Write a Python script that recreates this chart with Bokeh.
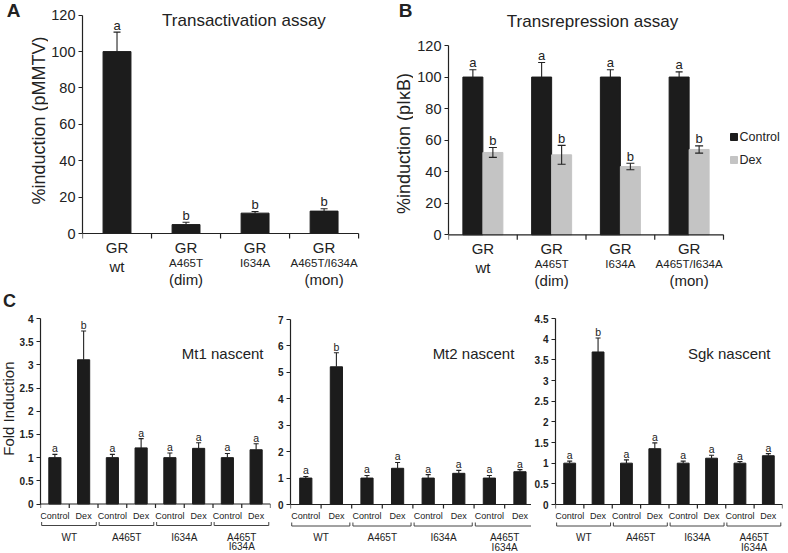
import math
from bokeh.plotting import figure
from bokeh.models import (Range1d, FixedTicker, Label, ColumnDataSource, Whisker,
                          TeeHead, CustomJSTickFormatter)
from bokeh.layouts import row, column
from bokeh.embed import file_html
from bokeh.resources import INLINE
from bokeh.core.properties import value

FONT = "Liberation Sans"
INK = "#222222"
BAR_DARK = "#1c1c1c"
BAR_GREY = "#c4c4c4"

# ------------------------------------------------------------------ data
ab_line1 = ["GR", "GR", "GR", "GR"]
ab_line2_big = ["wt", "", "", ""]
ab_line2_small = ["", "A465T", "I634A", "A465T/I634A"]
ab_line3 = ["", "(dim)", "", "(mon)"]

a_ticks = [0, 20, 40, 60, 80, 100, 120]
a_mean = [100.0, 4.9, 11.2, 12.3]
a_err = [10.7, 1.3, 0.9, 1.3]
a_letter = ["a", "b", "b", "b"]

b_ticks = [0, 20, 40, 60, 80, 100, 120]
b_series = ["Control", "Dex"]
b_control = [100.0, 100.0, 100.0, 100.0]
b_control_err = [4.6, 9.2, 4.6, 3.3]
b_dex = [52.2, 50.7, 43.3, 54.1]
b_dex_err = [3.1, 6.0, 2.1, 2.3]
b_control_letter = ["a", "a", "a", "a"]
b_dex_letter = ["b", "b", "b", "b"]

c_line1 = ["WT", "A465T", "I634A", "A465T"]
c_line2 = ["", "", "", "I634A"]
c_conditions = ["Control", "Dex"]
c_control_letter = ["a", "a", "a", "a"]
c_dex_letter = ["b", "a", "a", "a"]

mt1_ticks = [0, 0.5, 1, 1.5, 2, 2.5, 3, 3.5, 4]
mt1_control = [1.0, 1.0, 1.0, 1.0]
mt1_control_err = [0.07, 0.07, 0.10, 0.09]
mt1_dex = [3.11, 1.21, 1.20, 1.17]
mt1_dex_err = [0.62, 0.20, 0.12, 0.13]

mt2_ticks = [0, 1, 2, 3, 4, 5, 6, 7]
mt2_control = [1.0, 1.0, 1.0, 1.0]
mt2_control_err = [0.06, 0.10, 0.13, 0.10]
mt2_dex = [5.21, 1.37, 1.18, 1.24]
mt2_dex_err = [0.53, 0.22, 0.11, 0.08]

sgk_ticks = [0, 0.5, 1, 1.5, 2, 2.5, 3, 3.5, 4, 4.5]
sgk_control = [1.0, 1.0, 1.0, 1.0]
sgk_control_err = [0.05, 0.08, 0.05, 0.04]
sgk_dex = [3.69, 1.35, 1.12, 1.18]
sgk_dex_err = [0.34, 0.14, 0.07, 0.05]


# ------------------------------------------------------------------ layout helpers
class Panel:
    """fig_box / frame_box are page pixels (left, right, top, bottom)."""

    def __init__(self, fig_box, frame_box, x0, xunit, y0, yunit):
        self.fl, self.fr, self.ft, self.fb = fig_box
        self.l, self.r, self.t, self.b = frame_box
        self.x0, self.xu, self.y0, self.yu = x0, xunit, y0, yunit

    def dx(self, px):
        return (px - self.x0) / self.xu

    def dy(self, py):
        return (self.y0 - py) / self.yu

    def pxy(self, n):
        return n / self.yu

    def pxx(self, n):
        return n / self.xu

    def figure(self):
        p = figure(width=self.fr - self.fl, height=self.fb - self.ft,
                   x_range=Range1d(self.dx(self.l), self.dx(self.r)),
                   y_range=Range1d(self.dy(self.b), self.dy(self.t)),
                   min_border_left=self.l - self.fl, min_border_right=self.fr - self.r,
                   min_border_top=self.t - self.ft, min_border_bottom=self.fb - self.b,
                   x_axis_location=None, y_axis_location="left",
                   output_backend="svg", toolbar_location=None)
        p.outline_line_color = None
        p.xgrid.grid_line_color = None
        p.ygrid.grid_line_color = None
        p.background_fill_color = "white"
        p.border_fill_color = "white"
        return p


def strip(left, right, top, bottom):
    """A text-only figure whose data units are page pixels (y downwards)."""
    p = figure(width=right - left, height=bottom - top,
               x_range=Range1d(left, right), y_range=Range1d(bottom, top),
               min_border=0, x_axis_location=None, y_axis_location=None,
               output_backend="svg", toolbar_location=None)
    p.outline_line_color = None
    p.xgrid.grid_line_color = None
    p.ygrid.grid_line_color = None
    p.background_fill_color = "white"
    p.border_fill_color = "white"
    return p


def style_yaxis(p, ticks, size, bold, standoff):
    ax = p.yaxis[0]
    ax.ticker = FixedTicker(ticks=ticks)
    ax.formatter = CustomJSTickFormatter(code="return String(tick);")
    ax.bounds = (ticks[0], ticks[-1])
    ax.axis_line_color = INK
    ax.axis_line_width = 1.2
    ax.major_tick_line_color = INK
    ax.major_tick_line_width = 1.2
    ax.major_tick_out = 4
    ax.major_tick_in = 0
    ax.minor_tick_out = 0
    ax.minor_tick_in = 0
    ax.major_label_standoff = standoff
    ax.major_label_text_font = FONT
    ax.major_label_text_font_size = f"{size}px"
    ax.major_label_text_font_style = "bold" if bold else "normal"
    ax.major_label_text_color = INK


def texts(p, xs, ys, txt, size, align="center", bold=False, angle=0.0):
    p.text(x=xs, y=ys, text=txt, text_font=value(FONT),
           text_font_size=value(f"{size}px"), text_align=align,
           text_baseline="middle", text_color=INK, angle=angle,
           text_font_style="bold" if bold else "normal")


def label(p, x, y, txt, size, bold=False, align="center"):
    p.add_layout(Label(x=x, y=y, text=txt, text_font=FONT, text_font_size=f"{size}px",
                       text_align=align, text_baseline="middle",
                       text_color=INK, text_font_style="bold" if bold else "normal"))


def whisker(p, xs, lower, upper, cap, both=False):
    src = ColumnDataSource(dict(base=xs, lower=lower, upper=upper))
    w = Whisker(source=src, base="base", lower="lower", upper="upper",
                dimension="height", line_color=INK, line_width=1.1,
                upper_head=TeeHead(size=cap, line_color=INK, line_width=1.1),
                lower_head=TeeHead(size=cap, line_color=INK, line_width=1.1) if both else None,
                level="annotation")
    p.add_layout(w)


def x_axis(p, P, end, tick_positions, tick_len):
    p.segment(x0=[0], y0=[0], x1=[end], y1=[0], line_color=INK, line_width=1.2)
    n = len(tick_positions)
    p.segment(x0=tick_positions, y0=[0] * n, x1=tick_positions,
              y1=[-P.pxy(tick_len)] * n, line_color=INK, line_width=1.2)


ROT = math.pi / 2

# ------------------------------------------------------------------ panel A
sA = strip(0, 48, 0, 290)
texts(sA, [13], [10], ["A"], 19, bold=True)
texts(sA, [38], [120], ["%induction (pMMTV)"], 18, angle=ROT)

A = Panel((48, 390, 0, 290), (81, 390, 0, 290), 81, 69.25, 233.0, (233.0 - 14.7) / 120)
pA = A.figure()
style_yaxis(pA, a_ticks, 14.5, False, 3)
nA = len(a_mean)
xa = [i + 0.5 for i in range(nA)]
pA.vbar(x=xa, top=a_mean, bottom=0, width=A.pxx(28),
        fill_color=BAR_DARK, line_color=BAR_DARK)
a_up = [m + e for m, e in zip(a_mean, a_err)]
whisker(pA, xa, a_mean, a_up, 7)
texts(pA, xa, [u + A.pxy(7) for u in a_up], a_letter, 13)
x_axis(pA, A, nA, list(range(nA + 1)), 5)
texts(pA, xa, [-A.pxy(13.5)] * nA, ab_line1, 15)
texts(pA, xa, [-A.pxy(32.5)] * nA, ab_line2_big, 15)
texts(pA, xa, [-A.pxy(29.5)] * nA, ab_line2_small, 11.5)
texts(pA, xa, [-A.pxy(46)] * nA, ab_line3, 15)
label(pA, A.dx(243), A.dy(20), "Transactivation assay", 17)

# ------------------------------------------------------------------ panel B
sB = strip(390, 413, 0, 290)
texts(sB, [405], [10], ["B"], 19, bold=True)
texts(sB, [403], [143], ["%induction (pI\u03baB)"], 18, angle=ROT)

B = Panel((413, 788, 0, 290), (448, 788, 0, 290), 448, 68.75, 234.3, (234.3 - 45.0) / 120)
pB = B.figure()
style_yaxis(pB, b_ticks, 14.5, False, 3)
nB = len(b_control)
half = B.pxx(20)
xbc = [i + 0.5 - half / 2 for i in range(nB)]
xbd = [i + 0.5 + half / 2 for i in range(nB)]
pB.vbar(x=xbc, top=b_control, bottom=0, width=half, fill_color=BAR_DARK, line_color=BAR_DARK)
pB.vbar(x=xbd, top=b_dex, bottom=0, width=half, fill_color=BAR_GREY, line_color=BAR_GREY)
bc_up = [m + e for m, e in zip(b_control, b_control_err)]
bd_up = [m + e for m, e in zip(b_dex, b_dex_err)]
bd_lo = [m - e for m, e in zip(b_dex, b_dex_err)]
whisker(pB, xbc, b_control, bc_up, 7)
whisker(pB, xbd, bd_lo, bd_up, 8, both=True)
texts(pB, xbc, [u + B.pxy(7) for u in bc_up], b_control_letter, 13)
texts(pB, xbd, [u + B.pxy(7) for u in bd_up], b_dex_letter, 13)
x_axis(pB, B, nB, list(range(nB + 1)), 5)
xb = [i + 0.5 for i in range(nB)]
texts(pB, xb, [-B.pxy(13.5)] * nB, ab_line1, 15)
texts(pB, xb, [-B.pxy(32.5)] * nB, ab_line2_big, 15)
texts(pB, xb, [-B.pxy(29.5)] * nB, ab_line2_small, 11.5)
texts(pB, xb, [-B.pxy(46)] * nB, ab_line3, 15)
leg_y = [B.dy(136.5), B.dy(159.5)]
pB.scatter(x=[B.dx(733.5)] * 2, y=leg_y, marker="square", size=7,
           fill_color=[BAR_DARK, BAR_GREY], line_color=[BAR_DARK, BAR_GREY])
texts(pB, [B.dx(739)] * 2, leg_y, b_series, 12.5, align="left")
label(pB, B.dx(592), B.dy(21), "Transrepression assay", 17)


# ------------------------------------------------------------------ panel C
def c_panel(P, ticks, control, control_err, dex, dex_err, title, title_x, bar_px):
    p = P.figure()
    style_yaxis(p, ticks, 10, True, 3)
    n = len(control)
    xc = [i + 0.25 for i in range(n)]
    xd = [i + 0.75 for i in range(n)]
    w = P.pxx(bar_px)
    p.vbar(x=xc, top=control, bottom=0, width=w, fill_color=BAR_DARK, line_color=BAR_DARK)
    p.vbar(x=xd, top=dex, bottom=0, width=w, fill_color=BAR_DARK, line_color=BAR_DARK)
    c_up = [m + e for m, e in zip(control, control_err)]
    d_up = [m + e for m, e in zip(dex, dex_err)]
    whisker(p, xc, control, c_up, 5)
    whisker(p, xd, dex, d_up, 5)
    texts(p, xc, [u + P.pxy(6) for u in c_up], c_control_letter, 10.5)
    texts(p, xd, [u + P.pxy(6) for u in d_up], c_dex_letter, 10.5)
    x_axis(p, P, n, [k * 0.5 for k in range(2 * n + 1)], 4)
    texts(p, xc, [-P.pxy(11.5)] * n, [c_conditions[0]] * n, 9)
    texts(p, xd, [-P.pxy(11.5)] * n, [c_conditions[1]] * n, 9)
    b0 = [i + 0.02 for i in range(n)]
    b1 = [i + 0.97 for i in range(n)]
    yb = -P.pxy(21.5)
    ye = -P.pxy(18)
    p.segment(x0=b0, y0=[yb] * n, x1=b1, y1=[yb] * n, line_color="#444444", line_width=1)
    p.segment(x0=b0, y0=[yb] * n, x1=b0, y1=[ye] * n, line_color="#444444", line_width=1)
    p.segment(x0=b1, y0=[yb] * n, x1=b1, y1=[ye] * n, line_color="#444444", line_width=1)
    xg = [i + 0.5 for i in range(n)]
    texts(p, xg, [-P.pxy(33)] * n, c_line1, 10)
    texts(p, xg, [-P.pxy(42.5)] * n, c_line2, 10)
    label(p, P.dx(title_x), P.dy(353), title, 15)
    return p


sC = strip(0, 16, 290, 553)
texts(sC, [9], [299], ["C"], 18, bold=True)
texts(sC, [8], [407], ["Fold Induction"], 15, angle=ROT)

C1 = Panel((16, 274, 290, 553), (37, 270, 292, 553), 37, 233 / 4,
           503.5, (503.5 - 318) / 4)
pC1 = c_panel(C1, mt1_ticks, mt1_control, mt1_control_err, mt1_dex, mt1_dex_err,
              "Mt1 nascent", 221.5, 12.3)

C2 = Panel((274, 531, 290, 553), (288, 531, 292, 553), 288, 61.7,
           504, (504 - 319) / 7)
pC2 = c_panel(C2, mt2_ticks, mt2_control, mt2_control_err, mt2_dex, mt2_dex_err,
              "Mt2 nascent", 472.5, 12.3)

C3 = Panel((531, 788, 290, 553), (552, 782, 292, 553), 552, 230 / 4,
           504, (504 - 318) / 4.5)
pC3 = c_panel(C3, sgk_ticks, sgk_control, sgk_control_err, sgk_dex, sgk_dex_err,
              "Sgk nascent", 728, 12.0)

layout = column(row(sA, pA, sB, pB), row(sC, pC1, pC2, pC3))
open("out.html", "w").write(file_html(layout, INLINE))
